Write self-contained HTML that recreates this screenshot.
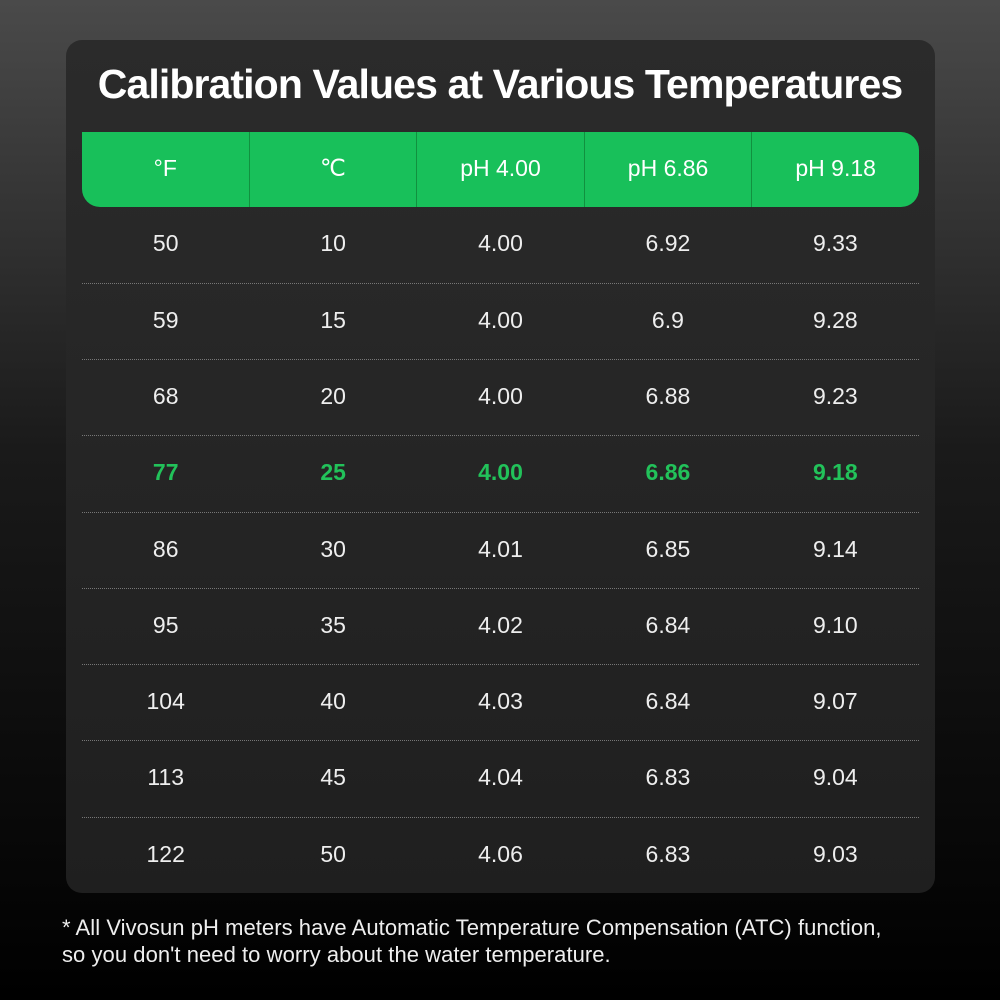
<!DOCTYPE html>
<html><head><meta charset="utf-8"><style>
html,body{margin:0;padding:0}
body{width:1000px;height:1000px;overflow:hidden;background:linear-gradient(180deg,#4a4a4a 0%,#1a1a1a 45%,#000 100%);font-family:"Liberation Sans",sans-serif;position:relative}
.card{position:absolute;left:66px;top:40px;width:869px;height:853px;border-radius:16px;background:linear-gradient(180deg,#2b2b2b,#1f1f1f)}
.title{position:absolute;left:0;width:1000px;top:61px;text-align:center;color:#fff;font-weight:bold;font-size:41px;letter-spacing:-0.9px}
.hdr{position:absolute;left:82px;top:132px;width:837px;height:75px;background:#18c05a;border-radius:0 18px 18px 18px;display:flex}
.hdr div{flex:1;color:#fff;font-size:23px;line-height:73px;text-align:center;border-left:1px solid #11913f}
.hdr div:first-child{border-left:none}
.row{position:absolute;left:82px;width:837px;height:76px;display:flex;border-top:1px dotted #777}
.row div{flex:1;text-align:center;color:#eee;font-size:23px;line-height:72px}
.row.first{border-top:none}
.row.g div{color:#22c25a;font-weight:bold}
.foot{position:absolute;left:62px;top:914px;color:#eee;font-size:22px;line-height:27px;letter-spacing:0.05px}
</style></head><body>
<div class="card"></div>
<div class="title">Calibration Values at Various Temperatures</div>
<div class="hdr"><div>°F</div><div>℃</div><div>pH 4.00</div><div>pH 6.86</div><div>pH 9.18</div></div>
<div class="row first" style="top:207px"><div>50</div><div>10</div><div>4.00</div><div>6.92</div><div>9.33</div></div>
<div class="row" style="top:283px"><div>59</div><div>15</div><div>4.00</div><div>6.9</div><div>9.28</div></div>
<div class="row" style="top:359px"><div>68</div><div>20</div><div>4.00</div><div>6.88</div><div>9.23</div></div>
<div class="row g" style="top:435px"><div>77</div><div>25</div><div>4.00</div><div>6.86</div><div>9.18</div></div>
<div class="row" style="top:512px"><div>86</div><div>30</div><div>4.01</div><div>6.85</div><div>9.14</div></div>
<div class="row" style="top:588px"><div>95</div><div>35</div><div>4.02</div><div>6.84</div><div>9.10</div></div>
<div class="row" style="top:664px"><div>104</div><div>40</div><div>4.03</div><div>6.84</div><div>9.07</div></div>
<div class="row" style="top:740px"><div>113</div><div>45</div><div>4.04</div><div>6.83</div><div>9.04</div></div>
<div class="row" style="top:817px"><div>122</div><div>50</div><div>4.06</div><div>6.83</div><div>9.03</div></div>
<div class="foot">* All Vivosun pH meters have Automatic Temperature Compensation (ATC) function,<br>so you don't need to worry about the water temperature.</div>
</body></html>
